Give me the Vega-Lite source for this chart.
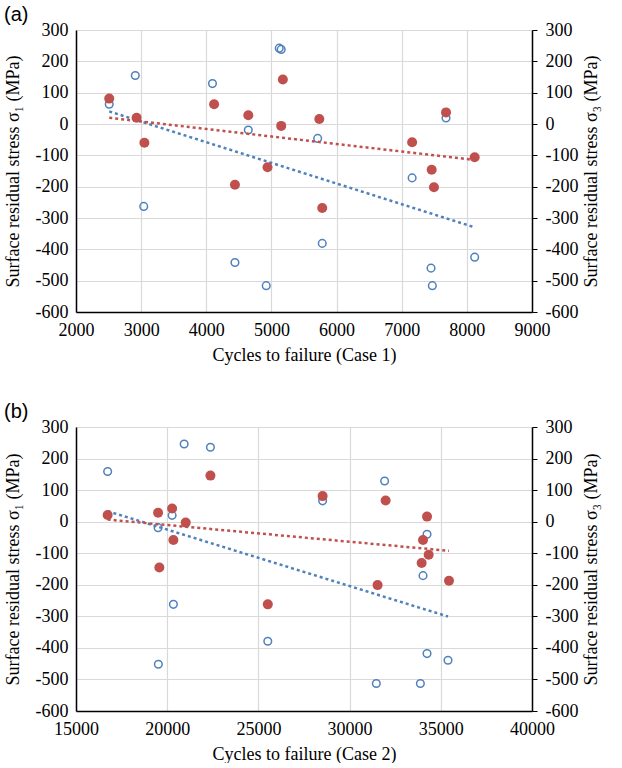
{
  "$schema": "https://vega.github.io/schema/vega-lite/v6.json",
  "padding": {"left": 4, "top": 5, "right": 2, "bottom": 0},
  "spacing": 38,
  "datasets": {
    "case1": [
      {"cycles": 2510, "stress": 63, "series": "s1"},
      {"cycles": 2910, "stress": 155, "series": "s1"},
      {"cycles": 3040, "stress": -263, "series": "s1"},
      {"cycles": 4095, "stress": 129, "series": "s1"},
      {"cycles": 4440, "stress": -442, "series": "s1"},
      {"cycles": 4645, "stress": -19, "series": "s1"},
      {"cycles": 4920, "stress": -516, "series": "s1"},
      {"cycles": 5120, "stress": 242, "series": "s1"},
      {"cycles": 5150, "stress": 238, "series": "s1"},
      {"cycles": 5710, "stress": -46, "series": "s1"},
      {"cycles": 5780, "stress": -381, "series": "s1"},
      {"cycles": 7160, "stress": -172, "series": "s1"},
      {"cycles": 7450, "stress": -460, "series": "s1"},
      {"cycles": 7470, "stress": -516, "series": "s1"},
      {"cycles": 7680, "stress": 19, "series": "s1"},
      {"cycles": 8120, "stress": -425, "series": "s1"},
      {"cycles": 2510, "stress": 81, "series": "s3"},
      {"cycles": 2930, "stress": 20, "series": "s3"},
      {"cycles": 3050, "stress": -60, "series": "s3"},
      {"cycles": 4120, "stress": 63, "series": "s3"},
      {"cycles": 4440, "stress": -194, "series": "s3"},
      {"cycles": 4645, "stress": 28, "series": "s3"},
      {"cycles": 4940, "stress": -138, "series": "s3"},
      {"cycles": 5150, "stress": -6, "series": "s3"},
      {"cycles": 5175, "stress": 142, "series": "s3"},
      {"cycles": 5735, "stress": 16, "series": "s3"},
      {"cycles": 5780, "stress": -268, "series": "s3"},
      {"cycles": 7160, "stress": -58, "series": "s3"},
      {"cycles": 7460, "stress": -146, "series": "s3"},
      {"cycles": 7495, "stress": -202, "series": "s3"},
      {"cycles": 7680, "stress": 37, "series": "s3"},
      {"cycles": 8120, "stress": -106, "series": "s3"}
    ],
    "case2": [
      {"cycles": 16735, "stress": 159, "series": "s1"},
      {"cycles": 19500, "stress": -19, "series": "s1"},
      {"cycles": 19515, "stress": -452, "series": "s1"},
      {"cycles": 20270, "stress": 20, "series": "s1"},
      {"cycles": 20340, "stress": -262, "series": "s1"},
      {"cycles": 20930, "stress": 246, "series": "s1"},
      {"cycles": 22370, "stress": 236, "series": "s1"},
      {"cycles": 25515, "stress": -379, "series": "s1"},
      {"cycles": 28520, "stress": 66, "series": "s1"},
      {"cycles": 31465, "stress": -513, "series": "s1"},
      {"cycles": 31920, "stress": 129, "series": "s1"},
      {"cycles": 33880, "stress": -513, "series": "s1"},
      {"cycles": 34025, "stress": -171, "series": "s1"},
      {"cycles": 34245, "stress": -40, "series": "s1"},
      {"cycles": 34245, "stress": -418, "series": "s1"},
      {"cycles": 35395, "stress": -439, "series": "s1"},
      {"cycles": 16735, "stress": 21, "series": "s3"},
      {"cycles": 19500, "stress": 28, "series": "s3"},
      {"cycles": 19570, "stress": -145, "series": "s3"},
      {"cycles": 20270, "stress": 42, "series": "s3"},
      {"cycles": 20340, "stress": -58, "series": "s3"},
      {"cycles": 21015, "stress": -3, "series": "s3"},
      {"cycles": 22370, "stress": 146, "series": "s3"},
      {"cycles": 25515, "stress": -262, "series": "s3"},
      {"cycles": 28520, "stress": 81, "series": "s3"},
      {"cycles": 31535, "stress": -201, "series": "s3"},
      {"cycles": 31975, "stress": 67, "series": "s3"},
      {"cycles": 33950, "stress": -131, "series": "s3"},
      {"cycles": 34025, "stress": -58, "series": "s3"},
      {"cycles": 34245, "stress": 16, "series": "s3"},
      {"cycles": 34335, "stress": -105, "series": "s3"},
      {"cycles": 35450, "stress": -187, "series": "s3"}
    ]
  },
  "vconcat": [
    {
      "title": {"text": "(a)"},
      "width": 456,
      "height": 282,
      "data": {"name": "case1"},
      "encoding": {
        "x": {
          "field": "cycles", "type": "quantitative",
          "scale": {"domain": [2000, 9000], "nice": false, "zero": false},
          "axis": {"title": "Cycles to failure (Case 1)", "values": [2000, 3000, 4000, 5000, 6000, 7000, 8000, 9000], "labelExpr": "'' + datum.value"}
        }
      },
      "layer": [
        {
          "transform": [{"filter": "datum.series == 's1'"}],
          "mark": {"type": "point", "shape": "circle", "filled": false, "size": 58, "strokeWidth": 1.5, "color": "#4F81BD", "opacity": 1},
          "encoding": {
            "y": {"field": "stress", "type": "quantitative", "scale": {"domain": [-600, 300], "nice": false, "zero": false},
              "axis": {"orient": "left", "title": "Surface residual stress σ₁ (MPa)", "values": [-600, -500, -400, -300, -200, -100, 0, 100, 200, 300], "labelExpr": "'' + datum.value", "grid": true, "titlePadding": 13}}
          }
        },
        {
          "transform": [{"filter": "datum.series == 's1'"}, {"regression": "stress", "on": "cycles"}],
          "mark": {"type": "line", "strokeDash": [3, 3], "strokeWidth": 2.5, "color": "#4F81BD"},
          "encoding": {"y": {"field": "stress", "type": "quantitative", "axis": null}}
        },
        {
          "transform": [{"filter": "datum.series == 's3'"}],
          "mark": {"type": "circle", "size": 100, "color": "#C0504D", "opacity": 1},
          "encoding": {
            "y": {"field": "stress", "type": "quantitative", "scale": {"domain": [-600, 300], "nice": false, "zero": false},
              "axis": {"orient": "right", "title": "Surface residual stress σ₃ (MPa)", "values": [-600, -500, -400, -300, -200, -100, 0, 100, 200, 300], "labelExpr": "'' + datum.value", "grid": false, "ticks": true, "tickSize": 5, "tickColor": "#000", "titleAngle": 270, "titlePadding": 23}}
          }
        },
        {
          "transform": [{"filter": "datum.series == 's3'"}, {"regression": "stress", "on": "cycles"}],
          "mark": {"type": "line", "strokeDash": [3, 3], "strokeWidth": 2.5, "color": "#C0504D"},
          "encoding": {"y": {"field": "stress", "type": "quantitative", "axis": null}}
        }
      ],
      "resolve": {"axis": {"y": "independent"}}
    },
    {
      "title": {"text": "(b)"},
      "width": 456,
      "height": 284,
      "data": {"name": "case2"},
      "encoding": {
        "x": {
          "field": "cycles", "type": "quantitative",
          "scale": {"domain": [15000, 40000], "nice": false, "zero": false},
          "axis": {"title": "Cycles to failure (Case 2)", "values": [15000, 20000, 25000, 30000, 35000, 40000], "labelExpr": "'' + datum.value"}
        }
      },
      "layer": [
        {
          "transform": [{"filter": "datum.series == 's1'"}],
          "mark": {"type": "point", "shape": "circle", "filled": false, "size": 58, "strokeWidth": 1.5, "color": "#4F81BD", "opacity": 1},
          "encoding": {
            "y": {"field": "stress", "type": "quantitative", "scale": {"domain": [-600, 300], "nice": false, "zero": false},
              "axis": {"orient": "left", "title": "Surface residual stress σ₁ (MPa)", "values": [-600, -500, -400, -300, -200, -100, 0, 100, 200, 300], "labelExpr": "'' + datum.value", "grid": true, "titlePadding": 13}}
          }
        },
        {
          "transform": [{"filter": "datum.series == 's1'"}, {"regression": "stress", "on": "cycles"}],
          "mark": {"type": "line", "strokeDash": [3, 3], "strokeWidth": 2.5, "color": "#4F81BD"},
          "encoding": {"y": {"field": "stress", "type": "quantitative", "axis": null}}
        },
        {
          "transform": [{"filter": "datum.series == 's3'"}],
          "mark": {"type": "circle", "size": 100, "color": "#C0504D", "opacity": 1},
          "encoding": {
            "y": {"field": "stress", "type": "quantitative", "scale": {"domain": [-600, 300], "nice": false, "zero": false},
              "axis": {"orient": "right", "title": "Surface residual stress σ₃ (MPa)", "values": [-600, -500, -400, -300, -200, -100, 0, 100, 200, 300], "labelExpr": "'' + datum.value", "grid": false, "ticks": true, "tickSize": 5, "tickColor": "#000", "titleAngle": 270, "titlePadding": 23}}
          }
        },
        {
          "transform": [{"filter": "datum.series == 's3'"}, {"regression": "stress", "on": "cycles"}],
          "mark": {"type": "line", "strokeDash": [3, 3], "strokeWidth": 2.5, "color": "#C0504D"},
          "encoding": {"y": {"field": "stress", "type": "quantitative", "axis": null}}
        }
      ],
      "resolve": {"axis": {"y": "independent"}}
    }
  ],
  "config": {
    "view": {"stroke": null},
    "font": "Liberation Serif",
    "style": {"guide-label": {"font": "Liberation Serif"}, "guide-title": {"font": "Liberation Serif"}},
    "title": {"anchor": "start", "frame": "bounds", "font": "Liberation Sans", "fontSize": 20, "fontWeight": "normal", "color": "#000", "offset": -4},
    "axis": {
      "labelFont": "Liberation Serif", "titleFont": "Liberation Serif",
      "labelFontSize": 18, "titleFontSize": 18, "titleFontWeight": "normal",
      "labelColor": "#000", "titleColor": "#000",
      "domainColor": "#000", "domainWidth": 1.5,
      "gridColor": "#d9d9d9", "gridWidth": 1.2,
      "ticks": false, "labelPadding": 8, "labelFlush": false, "labelOverlap": false
    },
    "axisX": {"grid": true, "labelPadding": 9, "titlePadding": 7}
  }
}
